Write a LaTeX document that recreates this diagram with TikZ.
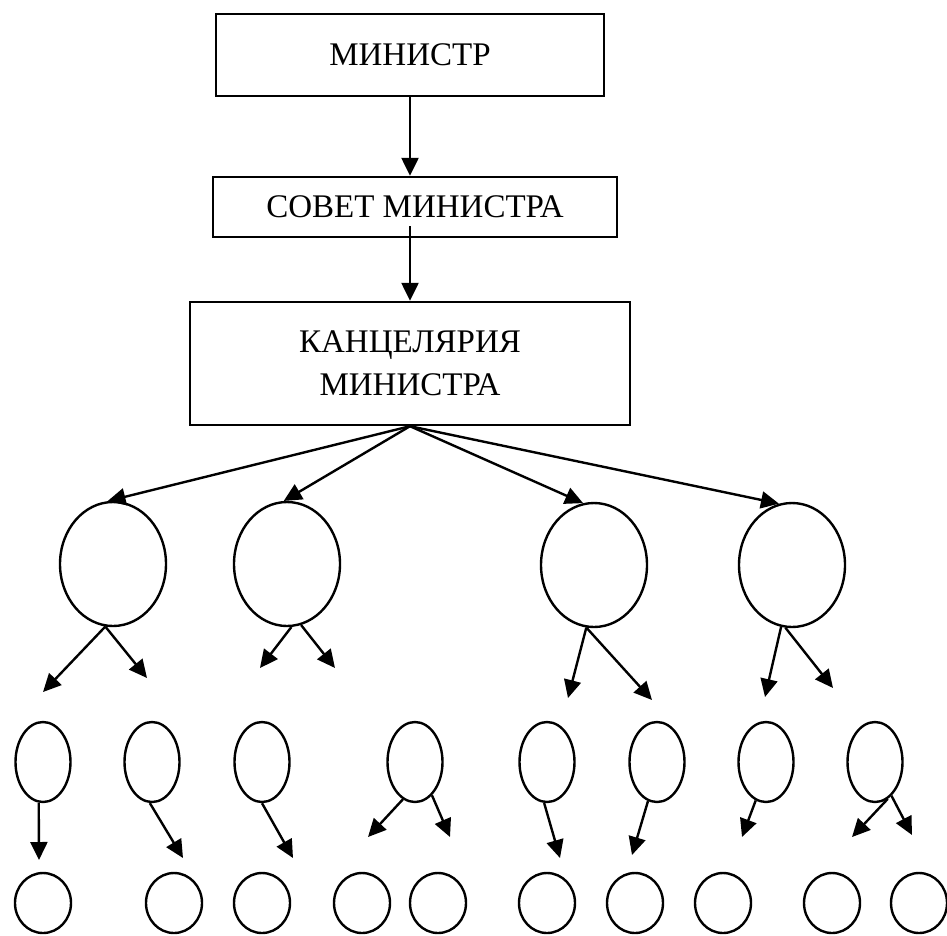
\documentclass[tikz,border=0pt]{standalone}
\usepackage{fontspec}
\setmainfont{Liberation Serif}
\usetikzlibrary{shapes.geometric,arrows.meta}
\begin{document}
\begin{tikzpicture}[x=1pt,y=-1pt,line width=2.4pt,
  box/.style={draw,rectangle,inner sep=0pt,align=center,font=\fontsize{33}{43}\selectfont},
  ov/.style={draw,ellipse,inner sep=0pt},
  big/.style={ov,minimum width=106pt,minimum height=124pt},
  mid/.style={ov,minimum width=55pt,minimum height=80pt},
  sml/.style={ov,minimum width=56pt,minimum height=60pt},
  arr/.style={-{Triangle[length=18pt,width=17pt]}}]
\useasboundingbox (0,0) rectangle (947,935);
% boxes
\node[box,minimum width=388pt,minimum height=82pt] (B1) at (410,55) {МИНИСТР};
\node[box,minimum width=404pt,minimum height=60pt] (B2) at (415,207) {СОВЕТ МИНИСТРА};
\node[box,minimum width=440pt,minimum height=123pt] (B3) at (410,363.5) {КАНЦЕЛЯРИЯ\\МИНИСТРА};
\coordinate (a2) at (410,226);
\draw[arr] (B1.south) -- (B1.south |- B2.north);
\draw[arr] (a2) -- (a2 |- B3.north);
% level 1
\node[big] (C1) at (113,564) {};
\node[big] (C2) at (287,564) {};
\node[big] (C3) at (594,565) {};
\node[big] (C4) at (792,565) {};
\draw[arr] (B3.south) -- (C1.95);
\draw[arr] (B3.south) -- (C2.93);
\draw[arr] (B3.south) -- (C3.100);
\draw[arr] (B3.south) -- (C4.102);
% free ends level 1
\coordinate (t1a) at (43,692);
\coordinate (t1b) at (147,678);
\coordinate (t2a) at (260,668);
\coordinate (t2b) at (335,668);
\coordinate (t3a) at (568,698);
\coordinate (t3b) at (652,700);
\coordinate (t4a) at (765,697);
\coordinate (t4b) at (833,688);
\draw[arr] (C1.-97) -- (t1a);
\draw[arr] (C1.-97) -- (t1b);
\draw[arr] (C2.-86) -- (t2a);
\draw[arr] (C2.-77) -- (t2b);
\draw[arr] (C3.-97) -- (t3a);
\draw[arr] (C3.-97) -- (t3b);
\draw[arr] (C4.-100) -- (t4a);
\draw[arr] (C4.-96) -- (t4b);
% level 2
\node[mid] (L2a) at (43,762) {};
\node[mid] (L2b) at (152,762) {};
\node[mid] (L2c) at (262,762) {};
\node[mid] (L2d) at (415,762) {};
\node[mid] (L2e) at (547,762) {};
\node[mid] (L2f) at (657,762) {};
\node[mid] (L2g) at (766,762) {};
\node[mid] (L2h) at (875,762) {};
\coordinate (u1) at (39,860);
\coordinate (u2) at (183,858);
\coordinate (u3) at (293,858);
\coordinate (u4a) at (368,837);
\coordinate (u4b) at (450,837);
\coordinate (u5) at (560,858);
\coordinate (u6) at (632,855);
\coordinate (u7) at (742,837);
\coordinate (u8a) at (852,837);
\coordinate (u8b) at (912,835);
\draw[arr] (L2a.-96) -- (u1);
\draw[arr] (L2b.-93) -- (u2);
\draw[arr] (L2c.-90) -- (u3);
\draw[arr] (L2d.-108) -- (u4a);
\draw[arr] (L2d.-63) -- (u4b);
\draw[arr] (L2e.-94) -- (u5);
\draw[arr] (L2f.-103) -- (u6);
\draw[arr] (L2g.-105) -- (u7);
\draw[arr] (L2h.-71) -- (u8a);
\draw[arr] (L2h.-64) -- (u8b);
% level 3
\node[sml] (L3a) at (43,903) {};
\node[sml] (L3b) at (174,903) {};
\node[sml] (L3c) at (262,903) {};
\node[sml] (L3d) at (362,903) {};
\node[sml] (L3e) at (438,903) {};
\node[sml] (L3f) at (547,903) {};
\node[sml] (L3g) at (635,903) {};
\node[sml] (L3h) at (723,903) {};
\node[sml] (L3i) at (832,903) {};
\node[sml] (L3j) at (919,903) {};
\end{tikzpicture}
\end{document}
